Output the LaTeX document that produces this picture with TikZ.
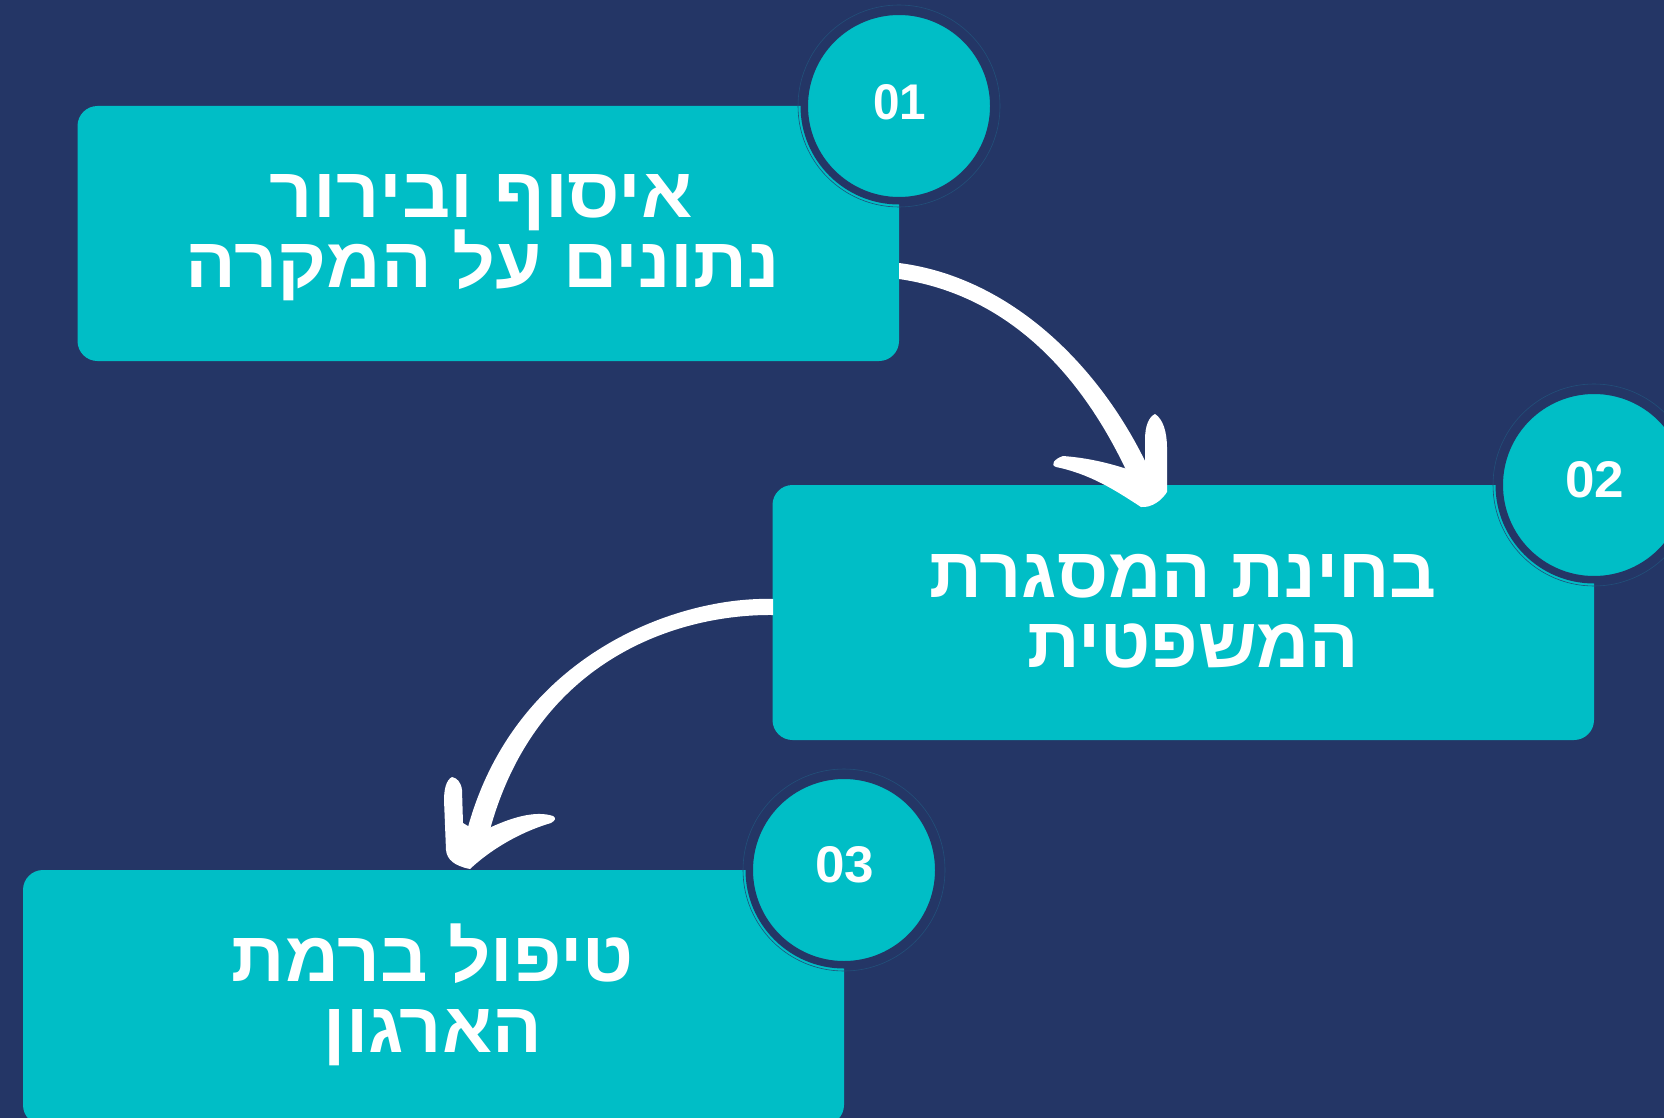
\documentclass[tikz,border=0pt]{standalone}
\usepackage{fontspec}
\usepackage{graphicx}
\TeXXeTstate=1
\newfontfamily\hebfont[Script=Hebrew]{Liberation Sans}
\newfontfamily\numfont{Liberation Sans}
\definecolor{navybg}{HTML}{243666}
\definecolor{tealbox}{HTML}{00BEC6}
\definecolor{ringline}{HTML}{22507A}
\newcommand\hebline[2]{%
  \setbox0=\hbox{\hebfont\bfseries\fontsize{10pt}{12pt}\selectfont ה}%
  \pgfmathsetmacro\hfs{430/\the\ht0}%
  \resizebox{#1}{\height}{\hebfont\bfseries\fontsize{\hfs pt}{\hfs pt}\selectfont #2}}
\newcommand\numtxt[3]{\resizebox{#1}{#2}{\numfont\bfseries #3}}
\begin{document}
\begin{tikzpicture}[x=1pt,y=-1pt,
  stepbox/.style={rectangle, rounded corners=20pt, fill=tealbox, inner sep=0pt},
  numcirc/.style={circle, fill=tealbox, draw=navybg, line width=7.5pt, minimum size=189.5pt, inner sep=0pt},
  txt/.style={anchor=base, inner sep=0pt, text=white},
  numlbl/.style={anchor=center, inner sep=0pt, text=white},
  brush/.style={fill=white, draw=none}]
\clip (0,0) rectangle (1664,1118);
\fill[navybg] (0,0) rectangle (1664,1118);

% boxes
\node[stepbox, minimum width=821.5pt, minimum height=255pt] (b1) at (488.25,233.5) {};
\node[stepbox, minimum width=821.5pt, minimum height=255pt] (b2) at (1183.25,612.5) {};
\node[stepbox, minimum width=821pt, minimum height=255pt] (b3) at (433.5,997.5) {};

% circles
\node[numcirc] (c1) at (899,106) {};
\node[numcirc] (c2) at (1594,485) {};
\node[numcirc] (c3) at (844,870) {};
\foreach \c in {c1,c2,c3}{\draw[ringline, line width=0.6pt] (\c.center) circle (101);}

% numbers
\node[numlbl] (n1) at (899.5,102.5) {\numtxt{53pt}{35pt}{01}};
\node[numlbl] (n2) at (1594.5,480) {\numtxt{59pt}{36pt}{02}};
\node[numlbl] (n3) at (844.5,865) {\numtxt{59pt}{36pt}{03}};

% texts
\node[txt] (t1a) at (481.5,217) {\hebline{423pt}{\beginR איסוף ובירור\endR}};
\node[txt] (t1b) at (483,287) {\hebline{594pt}{\beginR נתונים על המקרה\endR}};
\node[txt] (t2a) at (1183,597) {\hebline{508pt}{\beginR בחינת המסגרת\endR}};
\node[txt] (t2b) at (1193,667) {\hebline{332pt}{\beginR המשפטית\endR}};
\node[txt] (t3a) at (433,981.7) {\hebline{402pt}{\beginR טיפול ברמת\endR}};
\node[txt] (t3b) at (433,1052) {\hebline{218pt}{\beginR הארגון\endR}};

% arrow 1 (box 1 -> box 2)
\coordinate (a1s) at (899,271);
\coordinate (a1e) at (1140,475);
\fill[brush] (899,263) .. controls (1010.2,277.1) and (1101.1,365.8) .. (1149.6,470.6)
  -- (1130.4,479.4) .. controls (1082.9,374.2) and (1007.8,294.9) .. (899,279) -- cycle;
\fill[brush] (1145,466) -- (1145,440) .. controls (1145,425) and (1149,417) .. (1155,414)
  .. controls (1163,419) and (1167,432) .. (1167,448) -- (1167,492)
  .. controls (1162,500) and (1152,508) .. (1141,507)
  .. controls (1115,490) and (1090,474) .. (1056,467)
  .. controls (1050,465) and (1054,459) .. (1063,456)
  .. controls (1090,458) and (1112,464) .. (1130,470) -- cycle;

% arrow 2 (box 2 -> box 3)
\coordinate (a2s) at (773,607);
\coordinate (a2e) at (478,832);
\fill[brush] (773,599) .. controls (680,596) and (515.3,652.4) .. (467.4,829.2)
  -- (488.6,834.8) .. controls (534.7,657.6) and (680,614) .. (773,615) -- cycle;
\fill[brush] (468,826) -- (463,823) -- (462,790) .. controls (461,782) and (457,778) .. (452,777)
  .. controls (446,780) and (444,790) .. (444,800) -- (446,850)
  .. controls (447,860) and (455,866) .. (470,869)
  .. controls (490,850) and (520,832) .. (551,823)
  .. controls (556,820) and (556,818) .. (553,816)
  .. controls (535,810) and (510,818) .. (487,829) -- cycle;
\end{tikzpicture}
\end{document}
